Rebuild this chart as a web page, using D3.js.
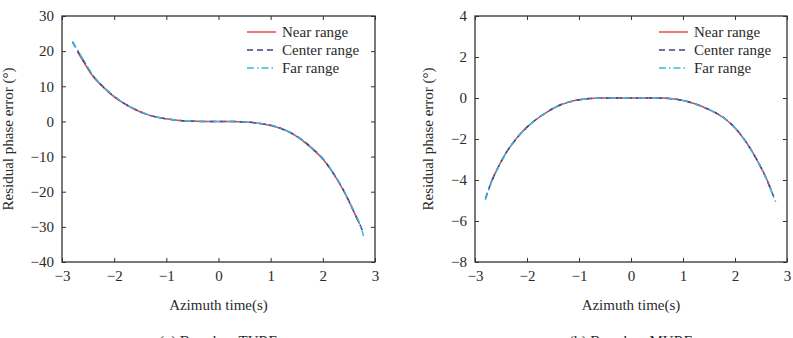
<!DOCTYPE html>
<html><head><meta charset="utf-8">
<script src="https://cdn.jsdelivr.net/npm/d3@7"></script>
<style>body{margin:0;background:#fff}svg{display:block}text{font-family:"Liberation Serif","Times New Roman",serif;fill:#2a2a2a}</style>
</head><body>
<script>
// Azimuth time grid (s)
const times = [-2.8,-2.7,-2.6,-2.4,-2.2,-2.0,-1.8,-1.6,-1.4,-1.2,-1.0,-0.8,-0.6,-0.4,-0.2,0,0.2,0.4,0.6,0.8,1.0,1.2,1.4,1.6,1.8,2.0,2.2,2.4,2.6,2.7,2.78];
// (a) Based on TURE
const tureNear   = [null,19.8,17.3,12.7,9.6,7.0,5.0,3.4,2.15,1.28,0.74,0.34,0.1,0.02,0,0,-0.02,-0.08,-0.26,-0.6,-1.15,-2.05,-3.4,-5.3,-7.8,-10.7,-14.8,-19.8,-25.9,-29.1,null];
const tureCenter = [22.6,20.1,17.6,12.9,9.7,7.1,5.05,3.45,2.15,1.3,0.76,0.35,0.11,0.02,0,0,-0.02,-0.08,-0.25,-0.6,-1.1,-2.0,-3.35,-5.2,-7.7,-10.6,-14.7,-19.7,-25.8,-29.0,-31.8];
const tureFar    = [22.8,20.3,17.8,13.0,9.8,7.2,5.1,3.5,2.2,1.32,0.77,0.35,0.12,0.02,0,0,-0.02,-0.07,-0.24,-0.58,-1.08,-1.98,-3.3,-5.15,-7.6,-10.5,-14.6,-19.6,-25.6,-28.8,-32.6];
// (b) Based on MURE
const mureNear   = [null,-4.15,-3.6,-2.66,-1.96,-1.42,-1.0,-0.66,-0.39,-0.2,-0.09,-0.03,0.0,0.0,0.0,0.0,0.0,0.0,0.0,-0.04,-0.12,-0.26,-0.45,-0.69,-1.0,-1.46,-2.1,-2.92,-3.9,-4.5,null];
const mureCenter = [-4.9,-4.2,-3.62,-2.67,-1.97,-1.42,-1.0,-0.66,-0.38,-0.2,-0.09,-0.03,-0.01,0,0,0,0,0,-0.01,-0.04,-0.12,-0.26,-0.45,-0.68,-0.99,-1.45,-2.1,-2.92,-3.92,-4.55,-5.0];
const mureFar    = [-4.97,-4.22,-3.63,-2.68,-1.97,-1.43,-1.01,-0.67,-0.39,-0.2,-0.09,-0.03,-0.01,0,0,0,0,0,-0.01,-0.04,-0.12,-0.26,-0.45,-0.68,-0.99,-1.45,-2.1,-2.93,-3.93,-4.56,-5.06];
const xTicks = [-3,-2,-1,0,1,2,3];
const yTicksA = [30,20,10,0,-10,-20,-30,-40];
const yTicksB = [4,2,0,-2,-4,-6,-8];
const seriesNames = ["Near range","Center range","Far range"];
const seriesColors = ["#e5403d","#3f4184","#3bb6e6"];
const seriesDash = [null,"6,4","7,3,1.5,3"];

const W=793,H=338;
const svg=d3.select("body").append("svg").attr("width",W).attr("height",H);
const fmt = v => v<0 ? "\u2212"+Math.abs(v) : String(v);

function panel(left,right,yDom,yTicks,data,caption,ylabX){
  const top=16,bottom=262;
  const x=d3.scaleLinear().domain([-3,3]).range([left,right]);
  const y=d3.scaleLinear().domain(yDom).range([bottom,top]);
  const g=svg.append("g");
  const ax=(sel)=>{sel.select(".domain").remove();sel.selectAll("line").attr("stroke","#333");sel.selectAll("text").style("font-size","15px").attr("fill","#2a2a2a");};
  g.append("g").attr("transform",`translate(0,${bottom})`).call(d3.axisBottom(x).tickValues(xTicks).tickFormat(fmt).tickSizeInner(-4).tickSizeOuter(0).tickPadding(8)).call(ax);
  g.append("g").attr("transform",`translate(0,${top})`).call(d3.axisTop(x).tickValues(xTicks).tickFormat("").tickSizeInner(-4).tickSizeOuter(0)).call(ax);
  g.append("g").attr("transform",`translate(${left},0)`).call(d3.axisLeft(y).tickValues(yTicks).tickFormat(fmt).tickSizeInner(-4).tickSizeOuter(0).tickPadding(8)).call(ax);
  g.append("g").attr("transform",`translate(${right},0)`).call(d3.axisRight(y).tickValues(yTicks).tickFormat("").tickSizeInner(-4).tickSizeOuter(0)).call(ax);
  g.append("rect").attr("x",left).attr("y",top).attr("width",right-left).attr("height",bottom-top).attr("fill","none").attr("stroke","#333").attr("stroke-width",1.3);
  const line=d3.line().defined(d=>d[1]!==null).x(d=>x(d[0])).y(d=>y(d[1])).curve(d3.curveCatmullRom);
  data.forEach((s,i)=>{
    g.append("path").datum(times.map((t,j)=>[t,s[j]])).attr("d",line).attr("fill","none")
     .attr("stroke",seriesColors[i]).attr("stroke-width",1.5).attr("stroke-dasharray",seriesDash[i]);
  });
  // legend
  const lx=right-128, rows=[32,50,68];
  seriesNames.forEach((n,i)=>{
    g.append("line").attr("x1",lx).attr("x2",lx+29).attr("y1",rows[i]).attr("y2",rows[i])
     .attr("stroke",seriesColors[i]).attr("stroke-width",1.4).attr("stroke-dasharray",seriesDash[i]);
    g.append("text").attr("x",lx+35).attr("y",rows[i]+5).style("font-size","15px").text(n);
  });
  g.append("text").attr("x",(left+right)/2).attr("y",310).attr("text-anchor","middle").style("font-size","15px").text("Azimuth time(s)");
  g.append("text").attr("transform",`translate(${ylabX},${(top+bottom)/2}) rotate(-90)`).attr("text-anchor","middle").style("font-size","15px").text("Residual phase error (\u00b0)");
  g.append("text").attr("x",(left+right)/2).attr("y",346).attr("text-anchor","middle").style("font-size","15px").text(caption);
}
panel(62,375,[-40,30],yTicksA,[tureNear,tureCenter,tureFar],"(a) Based on TURE",13);
panel(475,787,[-8,4],yTicksB,[mureNear,mureCenter,mureFar],"(b) Based on MURE",433);
</script>
</body></html>
